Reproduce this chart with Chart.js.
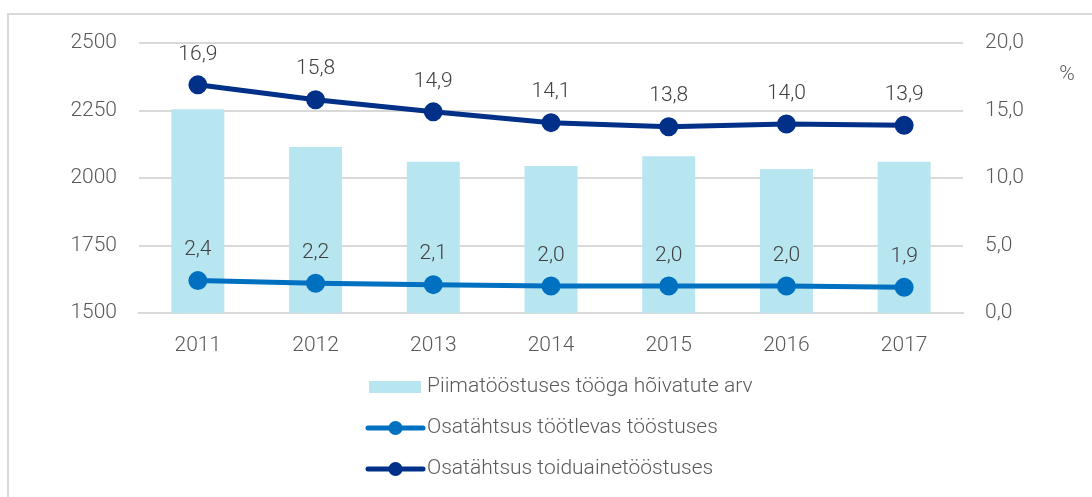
<!DOCTYPE html>
<html>
<head>
<meta charset="utf-8">
<script src="https://cdn.jsdelivr.net/npm/chart.js@4"></script>
<style>
  html, body { margin: 0; padding: 0; background: #fff; overflow: hidden; }
  #frame { position: absolute; left: 7px; top: 13px; width: 1200px; height: 600px;
           border-left: 2px solid #d9d9d9; border-top: 2px solid #d9d9d9; }
  #chart { position: absolute; left: 0; top: 0; }
</style>
</head>
<body>
<div id="frame"></div>
<canvas id="chart" width="1092" height="497"></canvas>
<script>
// andmed
const aastad = ['2011', '2012', '2013', '2014', '2015', '2016', '2017'];
const hoivatud = [2255, 2115, 2060, 2044, 2081, 2033, 2060];
const osaTootlev = [2.4, 2.2, 2.1, 2.0, 2.0, 2.0, 1.9];
const osaToidu = [16.9, 15.8, 14.9, 14.1, 13.8, 14.0, 13.9];

const nimed = ['Piimatööstuses tööga hõivatute arv', 'Osatähtsus töötlevas tööstuses', 'Osatähtsus toiduainetööstuses'];
const tekstVarv = '#595959';
const fontPere = 'Roboto, "Noto Sans", sans-serif';

function koma(v) { return v.toFixed(1).replace('.', ','); }

// väärtused punktide kohale
const silted = {
  id: 'silted',
  afterDatasetsDraw(chart) {
    const ctx = chart.ctx;
    ctx.save();
    ctx.font = '300 21px ' + fontPere;
    ctx.fillStyle = '#404040';
    ctx.textAlign = 'center';
    ctx.textBaseline = 'bottom';
    chart.data.datasets.forEach((ds, i) => {
      if (ds.type !== 'line') return;
      chart.getDatasetMeta(i).data.forEach((p, j) => {
        ctx.fillText(koma(ds.data[j]), p.x, p.y - 20);
      });
    });
    // % tähis paremal
    ctx.fillStyle = tekstVarv;
    ctx.textBaseline = 'middle';
    ctx.fillText('%', chart.chartArea.right + 104, chart.chartArea.top + 32);
    ctx.restore();
  }
};

// legend all, üksteise all
const legendAll = {
  id: 'legendAll',
  afterDraw(chart) {
    const ctx = chart.ctx;
    ctx.save();
    ctx.font = '300 21px ' + fontPere;
    ctx.textBaseline = 'middle';
    ctx.textAlign = 'left';
    const yAlg = 387, samm = 41, x0 = 368, tx = 427;
    // järjekord: tulbad, hele joon, tume joon
    [0, 1, 2].forEach((i, k) => {
      const ds = chart.data.datasets.find(d => d.label === nimed[i]);
      const y = yAlg + k * samm;
      if (ds.type === 'bar') {
        ctx.fillStyle = ds.backgroundColor;
        ctx.fillRect(x0 + 1, y - 6, 52, 12);
      } else {
        ctx.strokeStyle = ds.borderColor;
        ctx.lineWidth = 5;
        ctx.lineCap = 'round';
        ctx.beginPath();
        ctx.moveTo(x0, y);
        ctx.lineTo(x0 + 55, y);
        ctx.stroke();
        ctx.fillStyle = ds.borderColor;
        ctx.beginPath();
        ctx.arc(x0 + 27.5, y, 7, 0, Math.PI * 2);
        ctx.fill();
      }
      ctx.fillStyle = tekstVarv;
      ctx.fillText(ds.label, tx, y);
    });
    ctx.restore();
  }
};

Chart.defaults.font.family = fontPere;
Chart.defaults.font.size = 21;
Chart.defaults.font.weight = '300';
Chart.defaults.color = tekstVarv;

new Chart(document.getElementById('chart').getContext('2d'), {
  data: {
    labels: aastad,
    datasets: [
      {
        type: 'line',
        label: nimed[2],
        data: osaToidu,
        yAxisID: 'y1',
        borderColor: '#003087',
        backgroundColor: '#003087',
        borderWidth: 5,
        pointRadius: 7,
        pointHoverRadius: 7,
        tension: 0,
        order: 1
      },
      {
        type: 'line',
        label: nimed[1],
        data: osaTootlev,
        yAxisID: 'y1',
        borderColor: '#0070c0',
        backgroundColor: '#0070c0',
        borderWidth: 5,
        pointRadius: 7,
        pointHoverRadius: 7,
        tension: 0,
        order: 2
      },
      {
        type: 'bar',
        label: nimed[0],
        data: hoivatud,
        yAxisID: 'y',
        backgroundColor: '#b7e6f1',
        barPercentage: 0.45,
        categoryPercentage: 1,
        order: 3
      }
    ]
  },
  options: {
    responsive: false,
    animation: false,
    layout: { padding: { top: 43, left: 0, right: 0, bottom: 0 } },
    plugins: {
      legend: { display: false },
      tooltip: { enabled: false }
    },
    scales: {
      x: {
        grid: { display: false, drawTicks: false },
        border: { display: true, color: '#d9d9d9', width: 2 },
        ticks: { padding: 20, color: tekstVarv },
        afterFit(s) { s.height = 497 - 313; }
      },
      y: {
        position: 'left',
        min: 1500,
        max: 2500,
        ticks: { stepSize: 250, padding: 22, color: tekstVarv, callback: v => String(v) },
        grid: { color: '#d9d9d9', lineWidth: 2, drawTicks: false },
        border: { display: false },
        afterFit(s) { s.width = 139; }
      },
      y1: {
        position: 'right',
        min: 0,
        max: 20,
        ticks: { stepSize: 5, padding: 22, color: tekstVarv, callback: v => koma(v) },
        grid: { display: false, drawTicks: false },
        border: { display: false },
        afterFit(s) { s.width = 1092 - 963; }
      }
    }
  },
  plugins: [silted, legendAll]
});
</script>
</body>
</html>
